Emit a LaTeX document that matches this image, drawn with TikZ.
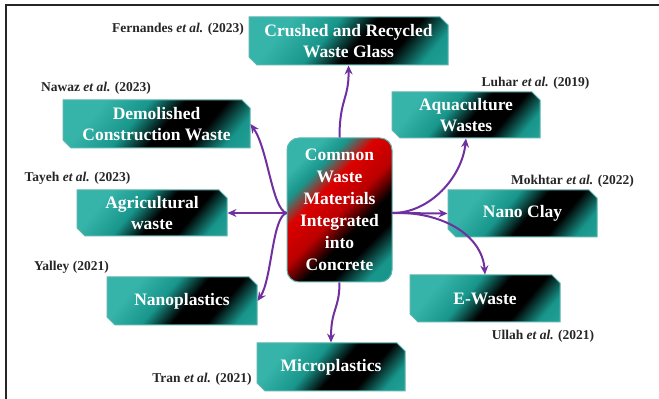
\documentclass[tikz,border=0pt]{standalone}
\usepackage{fontspec}
\setmainfont{Liberation Serif}[BoldFont={Liberation Serif Bold},ItalicFont={Liberation Serif Italic},BoldItalicFont={Liberation Serif Bold Italic}]
\usetikzlibrary{shapes.misc,arrows.meta,calc}
\definecolor{tealc}{RGB}{24,150,140}
\definecolor{teall}{RGB}{55,180,170}
\definecolor{arrowc}{RGB}{112,48,160}
\definecolor{redc}{RGB}{220,0,0}
\pgfdeclarehorizontalshading{boxshade}{100bp}{color(0bp)=(teall); color(28bp)=(teall); color(42bp)=(tealc); color(53bp)=(black); color(66bp)=(black); color(77bp)=(tealc); color(100bp)=(teall)}
\pgfdeclarehorizontalshading{centershade}{100bp}{color(0bp)=(teall); color(25bp)=(teall); color(32bp)=(tealc); color(40bp)=(redc); color(51bp)=(redc!85!black); color(60bp)=(black); color(68bp)=(black); color(78bp)=(tealc); color(100bp)=(tealc)}
\tikzset{
  wbox/.style={chamfered rectangle, chamfered rectangle corners={north east,south west},
    chamfered rectangle xsep=4pt, chamfered rectangle ysep=4pt,
    draw=tealc!70!white, line width=1pt, shade, shading=boxshade, shading angle=-40,
    inner sep=0pt, align=center, text=white,
    font=\fontsize{17.5}{21}\selectfont\bfseries},
  cbox/.style={rectangle, rounded corners=12pt, draw=tealc!70!white, line width=1pt,
    shade, shading=centershade, shading angle=-45, inner sep=0pt, align=center,
    text=white, minimum width=105pt, minimum height=144pt,
    font=\fontsize{17.5}{22}\selectfont\bfseries},
  cite/.style={font=\fontsize{13.5}{16}\selectfont\bfseries, text=black!85, inner sep=0pt},
  arr/.style={draw=arrowc, line width=2pt, -{Stealth[length=9pt,width=8pt,inset=3pt]}},
  frame/.style={draw=black!85, line width=2.2pt}
}
\begin{document}
\begin{tikzpicture}[x=1pt,y=1pt]
\useasboundingbox (0,0) rectangle (659,399);
\fill[white] (0,0) rectangle (659,399);
\coordinate (fa) at (6,0);
\coordinate (fb) at (6,394);
\coordinate (fc) at (659,394);
\draw[frame] (fa) -- (fb) -- (fc);

\node[cbox] (center) at (339.5,189) {Common\\Waste\\Materials\\Integrated\\into\\Concrete};

\node[wbox, minimum width=199pt, minimum height=48pt] (crushed) at (348.5,358) {Crushed and Recycled\\Waste Glass};
\node[wbox, minimum width=187pt, minimum height=48pt] (demol) at (156.5,275) {Demolished\\Construction Waste};
\node[wbox, minimum width=150pt, minimum height=46pt] (agri) at (152,186) {Agricultural\\waste};
\node[wbox, minimum width=150pt, minimum height=48pt] (nanop) at (182,98) {Nanoplastics};
\node[wbox, minimum width=148pt, minimum height=48pt] (micro) at (331,32) {Microplastics};
\node[wbox, minimum width=150pt, minimum height=47pt] (ewaste) at (485,100.5) {E-Waste};
\node[wbox, minimum width=149pt, minimum height=47pt] (nanoclay) at (522.5,185.5) {Nano Clay};
\node[wbox, minimum width=148pt, minimum height=46pt] (aqua) at (466,284) {Aquaculture\\Wastes};

\node[cite] (c1) at (178,370) {Fernandes \textit{et al.} (2023)};
\node[cite] (c2) at (96,311) {Nawaz \textit{et al.} (2023)};
\node[cite] (c3) at (77.5,221) {Tayeh \textit{et al.} (2023)};
\node[cite] (c4) at (71.5,132) {Yalley (2021)};
\node[cite] (c5) at (202,20) {Tran \textit{et al.} (2021)};
\node[cite] (c6) at (543,63) {Ullah \textit{et al.} (2021)};
\node[cite] (c7) at (572.5,218) {Mokhtar \textit{et al.} (2022)};
\node[cite] (c8) at (535.5,316) {Luhar \textit{et al.} (2019)};

\coordinate (hubL) at (center.west |- agri.east);
\coordinate (hubR) at (center.east |- agri.east);

\draw[arr] (center.north) .. controls (339.5,300) and (349,300) .. (crushed.south);
\draw[arr] (center.south) .. controls (339.5,90) and (331,90) .. (micro.north);
\draw[arr] (hubL) -- (agri.east);
\draw[arr] (hubL) .. controls (272,190) and (268,250) .. (demol.east);
\draw[arr] (hubL) .. controls (272,182) and (272,120) .. (nanop.east);
\draw[arr] (hubR) -- (nanoclay.west);
\draw[arr] (hubR) .. controls (430,186) and (462,222) .. (aqua.south);
\draw[arr] (hubR) .. controls (440,188) and (482,165) .. (ewaste.north);
\end{tikzpicture}
\end{document}
